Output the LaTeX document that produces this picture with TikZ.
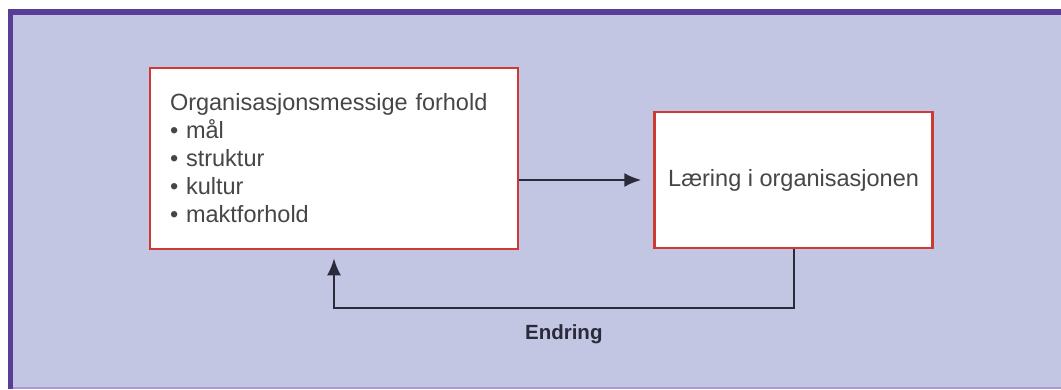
\documentclass[tikz,border=0pt]{standalone}
\usepackage{fontspec}
\setmainfont{Liberation Sans}
\usepackage{xcolor}
\usetikzlibrary{positioning}
\usetikzlibrary{arrows.meta}

\definecolor{bglilac}{RGB}{194,198,226}
\definecolor{framepurple}{RGB}{88,62,150}
\definecolor{framelight}{RGB}{172,152,216}
\definecolor{boxred}{RGB}{205,58,52}
\definecolor{linegray}{RGB}{42,42,58}
\definecolor{textgray}{RGB}{70,70,72}

\begin{document}
\begin{tikzpicture}[x=1pt, y=1pt]
	\tikzstyle{box} = [draw=boxred, line width=2.6pt, fill=white, text=textgray, font=\fontsize{23.5}{28}\selectfont]
	\tikzstyle{line} = [draw=linegray, line width=2.2pt, -{Latex[length=17pt, width=14pt]}]
	
	\useasboundingbox (0,0) rectangle (1061,389);
	% background frame
	\fill [bglilac] (8,0) rectangle (1061,380);
	\draw [framepurple, line width=6pt] (8,377) -- (1061,377);
	\draw [framepurple, line width=5pt] (10.5,0) -- (10.5,380);
	\draw [framelight, line width=2.5pt] (13,1.25) -- (1061,1.25);
	
	\node [box, text width=328pt, inner xsep=20pt, minimum height=181pt, align=left] (org) at (334,230.5)
		{Organisasjonsmessige forhold\\\textbullet\ mål\\\textbullet\ struktur\\\textbullet\ kultur\\\textbullet\ maktforhold};
	\node [box, minimum width=278pt, minimum height=136pt, align=center, right=134pt of org, yshift=-21.5pt] (laering) {Læring i organisasjonen};
	
	\path [line, shorten >=12pt] (org.east |- laering.west) -- (laering.west);
	\path [line, shorten >=8pt] (laering.south) -- ++(0,-59) -| node[pos=0.25, below=15pt, inner sep=0pt, text=linegray, font=\fontsize{20.5}{24}\selectfont\bfseries] (endring) {Endring} (org.south);
\end{tikzpicture}
\end{document}
